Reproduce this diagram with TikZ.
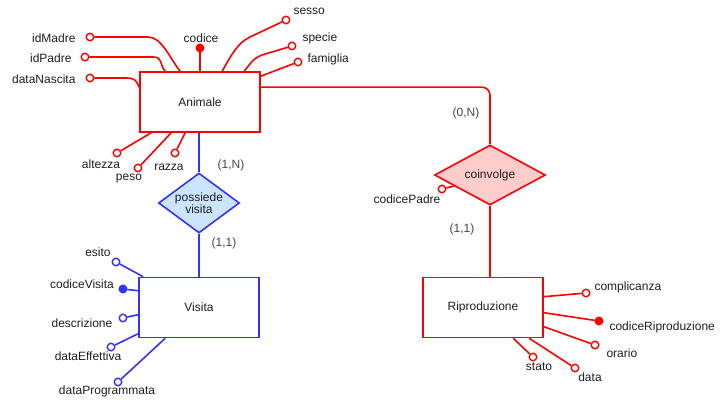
\documentclass[tikz,border=0pt]{standalone}
\usepackage{fontspec}
\setmainfont{Liberation Sans}
\usetikzlibrary{shapes.geometric,calc}
\definecolor{er}{RGB}{255,0,0}
\definecolor{eb}{RGB}{51,51,255}
\definecolor{rfill}{RGB}{255,204,204}
\definecolor{bfill}{RGB}{204,229,255}
\definecolor{txt}{RGB}{30,30,30}
\definecolor{card}{RGB}{70,70,70}
\tikzset{
  every node/.style={font=\fontsize{12}{13.5}\selectfont, text=txt},
  ent/.style={draw, line width=1.6pt, fill=white, minimum width=120pt, minimum height=60pt, inner sep=0pt},
  rel/.style={draw, diamond, line width=1.6pt, inner sep=0pt},
  adot/.style={circle, draw, line width=1.4pt, fill=white, inner sep=0pt, minimum size=7.5pt},
  kdot/.style={circle, draw, line width=1.4pt, inner sep=0pt, minimum size=7.5pt},
  conn/.style={line width=1.6pt},
  cardl/.style={text=card},
}
\begin{document}
\begin{tikzpicture}[x=1pt,y=-1pt]
\useasboundingbox (0,0) rectangle (721,403);

% ---------- Animale ----------
\node[ent, draw=er] (anim) at (200,102) {Animale};

\node[kdot, draw=er, fill=er] (codD) at (200,48) {};
\node (codL) at (201,38) {codice};
\node[adot, draw=er] (sesD) at (286,20) {};
\node[anchor=west] (sesL) at (290,11) {sesso};
\node[adot, draw=er] (speD) at (292,46) {};
\node[anchor=west] (speL) at (299,38) {specie};
\node[adot, draw=er] (famD) at (298,62) {};
\node[anchor=west] (famL) at (304,59) {famiglia};
\node[adot, draw=er] (madD) at (90,37) {};
\node[anchor=east] (madL) at (79,38) {idMadre};
\node[adot, draw=er] (padD) at (85,57) {};
\node[anchor=east] (padL) at (75,58) {idPadre};
\node[adot, draw=er] (nasD) at (90,78) {};
\node[anchor=east] (nasL) at (79,79) {dataNascita};
\node[adot, draw=er] (altD) at (117,153) {};
\node (altL) at (101,164) {altezza};
\node[adot, draw=er] (pesD) at (138,168) {};
\node (pesL) at (129,179) {peso};
\node[adot, draw=er] (razD) at (175,153) {};
\node (razL) at (169,167) {razza};

\begin{scope}[conn, er]
  \draw (anim.north) -- (codD);
  \draw ([xshift=83pt]anim.north west) .. controls +(10,-18) and +(-12,6) .. ($(sesD)+(-36,17)$) -- (sesD);
  \draw ([xshift=105pt]anim.north west) .. controls +(6,-7) and +(-10,4) .. ($(speD)+(-30,9)$) -- (speD);
  \draw ([yshift=-5pt]anim.north east) -- (famD);
  \draw (madD) -- ($(madD)+(58,0)$) .. controls +(14,0) and +(-10,-12) .. ([xshift=41pt]anim.north west);
  \draw (padD) -- ($(padD)+(68,0)$) .. controls +(10,0) and +(-6,-7) .. ([xshift=26pt]anim.north west);
  \draw (nasD) -- ($(nasD)+(36,0)$) .. controls +(10,0) and +(-3,-6) .. ([yshift=-16pt]anim.north west);
  \draw ([xshift=12pt]anim.south west) -- (altD);
  \draw ([xshift=32pt]anim.south west) -- (pesD);
  \draw ([xshift=46pt]anim.south west) -- (razD);
\end{scope}

% ---------- possiede visita ----------
\node[rel, draw=eb, fill=bfill, minimum width=81pt, minimum height=60pt] (pos) at (199,203) {};
\node[align=center] (posL) at (199,203) {possiede\\[-2pt]visita};
\node[ent, draw=eb] (vis) at (199,307.5) {Visita};
\draw[conn, eb] (pos.north |- anim.south) -- (pos.north);
\draw[conn, eb] (pos.south) -- (vis.north);
\node[cardl] (c1N) at (231,165) {(1,N)};
\node[cardl] (c11a) at (224,243) {(1,1)};

\node[adot, draw=eb] (esiD) at (116,262) {};
\node (esiL) at (98,252) {esito};
\node[kdot, draw=eb, fill=eb] (cvD) at (123,289) {};
\node (cvL) at (82,284) {codiceVisita};
\node[adot, draw=eb] (desD) at (123,318) {};
\node (desL) at (82,323) {descrizione};
\node[adot, draw=eb] (deD) at (111,347) {};
\node (deL) at (88,356) {dataEffettiva};
\node[adot, draw=eb] (dpD) at (118,382) {};
\node (dpL) at (107,391) {dataProgrammata};
\begin{scope}[conn, eb]
  \draw ([xshift=5pt]vis.north west) -- (esiD);
  \draw ([yshift=-14pt]vis.north west) -- (cvD);
  \draw ([yshift=-38pt]vis.north west) -- (desD);
  \draw ([yshift=-57pt]vis.north west) -- (deD);
  \draw ([xshift=27pt]vis.south west) -- (dpD);
\end{scope}

% ---------- coinvolge ----------
\node[rel, draw=er, fill=rfill, minimum width=111pt, minimum height=60pt] (coin) at (490,175) {};
\node (coinL) at (490,175) {coinvolge};
\node[ent, draw=er] (rip) at (483,307.5) {Riproduzione};
\draw[conn, er, rounded corners=8pt] ([yshift=-16pt]anim.north east) -| (coin.north);
\draw[conn, er] (coin.south) -- (coin.south |- rip.north);
\node[cardl] (c0N) at (466,113) {(0,N)};
\node[cardl] (c11b) at (462,229) {(1,1)};

\node[adot, draw=er] (cpD) at (442,189) {};
\node (cpL) at (407,199) {codicePadre};
\draw[conn, er] ($(coin.west)!0.36!(coin.south)$) -- (cpD);

\node[adot, draw=er] (comD) at (586,293) {};
\node[anchor=west] (comL) at (591,287) {complicanza};
\node[kdot, draw=er, fill=er] (crD) at (599,321) {};
\node[anchor=west] (crL) at (606,327) {codiceRiproduzione};
\node[adot, draw=er] (oraD) at (595,345) {};
\node[anchor=west] (oraL) at (603,353) {orario};
\node[adot, draw=er] (staD) at (533,357) {};
\node (staL) at (539,367) {stato};
\node[adot, draw=er] (datD) at (575,368) {};
\node (datL) at (590,377) {data};
\begin{scope}[conn, er]
  \draw ([yshift=-20pt]rip.north east) -- (comD);
  \draw ([yshift=-36pt]rip.north east) -- (crD);
  \draw ([yshift=-50pt]rip.north east) -- (oraD);
  \draw ([xshift=91pt]rip.south west) -- (staD);
  \draw ([xshift=107pt]rip.south west) -- (datD);
\end{scope}
\end{tikzpicture}
\end{document}
